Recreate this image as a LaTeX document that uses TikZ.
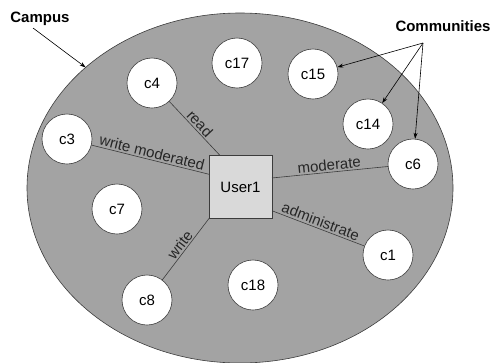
\documentclass[tikz,border=0pt]{standalone}
\usepackage{fontspec}
\setmainfont{Liberation Sans}
\usetikzlibrary{shapes.geometric,arrows.meta}
\definecolor{campusgray}{HTML}{A3A3A3}
\definecolor{usergray}{HTML}{D9D9D9}
\definecolor{edgegray}{HTML}{3C3C3C}
\tikzset{
	community/.style={circle, draw=edgegray, fill=white, line width=0.6pt, minimum size=50pt, inner sep=0pt, font=\fontsize{15}{18}\selectfont},
	role/.style={draw=edgegray, line width=0.6pt},
	rolelabel/.style={midway, sloped, above, inner sep=1.5pt, text=black!85, font=\fontsize{15}{18}\selectfont},
	pointer/.style={-{Stealth[length=6pt,width=4pt]}, line width=0.6pt},
	title/.style={font=\fontsize{15}{18}\selectfont\bfseries, inner sep=1pt},
}
\begin{document}
\begin{tikzpicture}[x=1pt,y=-1pt]
		\useasboundingbox (0,0) rectangle (495,362);
		%campus
		\node[ellipse, draw=edgegray, fill=campusgray, line width=0.6pt, minimum width=426pt, minimum height=350pt, inner sep=0pt, outer sep=0pt] (campus) at (240,188) {};
		%user
		\node[draw=edgegray, fill=usergray, line width=0.6pt, minimum size=63pt, inner sep=0pt, outer sep=0pt, font=\fontsize{15}{18}\selectfont] (user) at (240.5,187) {User1};
		%communities
			\node[community] (c4) at (152,83) {c4};
			\node[community] (c17) at (237,63) {c17};
			\node[community] (c15) at (313,74) {c15};
			\node[community] (c14) at (368,124) {c14};
			\node[community] (c6) at (413,164) {c6};
			\node[community] (c3) at (67,139) {c3};
			\node[community] (c7) at (117,209) {c7};
			\node[community] (c8) at (147,300) {c8};
			\node[community] (c18) at (253,285) {c18};
			\node[community] (c1) at (388,255) {c1};
		%roles
			\draw[role] (c4) -- node[rolelabel] {read} (user.123);
			\draw[role] (c3) -- node[rolelabel] {write moderated} (user.158);
			\draw[role] (user.16) -- node[rolelabel] {moderate} (c6);
			\draw[role] (user.-37) -- node[rolelabel] {administrate} (c1);
			\draw[role] (user.south west) -- node[rolelabel] {write} (c8);
		%labels
			\node[title] (campuslabel) at (40,19) {Campus};
			\coordinate (campustail) at (33,28);
			\draw[pointer] (campustail) -- (campus.142);
			\node[title] (commlabel) at (443,26) {Communities};
			\coordinate (commtail) at (423,43);
			\draw[pointer] (commtail) -- (c15);
			\draw[pointer] (commtail) -- (c14);
			\draw[pointer] (commtail) -- (c6);
\end{tikzpicture}
\end{document}
